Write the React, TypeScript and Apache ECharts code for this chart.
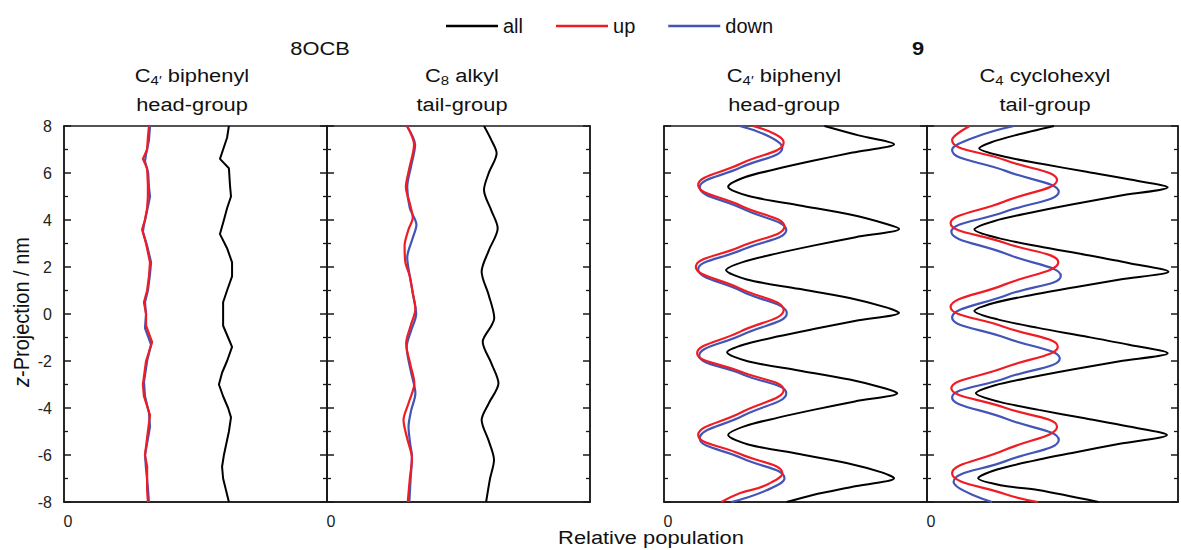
import React, { useEffect, useRef } from "react";
import * as echarts from "echarts";

const FONT = '"Liberation Sans", Arial, Helvetica, sans-serif';

// Each point: [relative population (0-100 of panel width), z-projection / nm]
const ocbHeadAll: [number, number][] = [[62.7,8],[62.0,7.5],[60.5,7],[59.3,6.6],[62.7,6.2],[63.1,5.5],[63.5,5],[62.0,4.5],[60.8,4],[59.3,3.4],[62.0,2.8],[63.9,2.2],[63.9,1.6],[62.0,1],[60.5,0.5],[60.5,0],[60.5,-0.5],[62.4,-1],[63.9,-1.4],[62.0,-2],[60.1,-2.5],[58.9,-3],[60.5,-3.5],[62.4,-4],[63.5,-4.4],[62.7,-5],[60.8,-6],[60.1,-6.5],[60.5,-7],[61.6,-7.5],[62.7,-8]];
const ocbHeadUp: [number, number][] = [[32.3,8],[31.9,7.5],[31.6,7],[30.0,6.6],[31.6,6.2],[31.9,5.5],[31.9,5],[31.6,4.5],[30.8,4],[29.7,3.6],[31.2,3],[32.7,2.2],[32.3,1.6],[31.6,1],[30.4,0.5],[31.2,0],[31.2,-0.5],[33.5,-1.2],[31.2,-2],[30.0,-3],[30.4,-3.5],[32.7,-4.3],[31.9,-5],[30.8,-6],[31.6,-6.5],[31.6,-7.5],[31.9,-8]];
const ocbHeadDown: [number, number][] = [[32.7,8],[32.3,7.4],[31.2,6.8],[30.8,6.5],[32.0,6.0],[32.3,5.4],[32.7,5.0],[31.6,4.4],[30.4,3.8],[30.0,3.5],[31.6,2.9],[33.1,2.2],[32.7,1.7],[31.9,1.0],[30.8,0.5],[31.2,0],[30.8,-0.6],[33.1,-1.3],[31.6,-2],[30.4,-2.9],[30.8,-3.5],[32.3,-4.2],[32.7,-4.8],[30.8,-6],[31.2,-6.6],[31.9,-7.4],[32.3,-8]];

const ocbTailAll: [number, number][] = [[59.7,8],[62.5,7.4],[64.5,6.84],[61.5,6.0],[59.7,5.28],[62.5,4.4],[64.9,3.65],[61.5,2.7],[58.8,1.8],[61.5,0.8],[63.6,-0.18],[62.5,-0.5],[59.2,-1.18],[62.5,-2.1],[65.2,-2.95],[61.5,-3.8],[58.8,-4.51],[61.5,-5.4],[63.5,-6.21],[62.0,-7.0],[60.5,-8]];
const ocbTailUp: [number, number][] = [[30.5,8],[33.1,7.2],[31.3,6.2],[30.0,5.4],[31.5,4.7],[32.6,4.1],[31.0,3.6],[29.5,2.9],[29.8,2.2],[31.5,1.6],[32.6,0.9],[33.6,0.2],[31.8,-0.5],[30.1,-1.25],[31.8,-2.2],[33.2,-2.95],[31.0,-3.8],[29.1,-4.51],[30.5,-5.3],[32.3,-6.14],[31.5,-7.0],[30.7,-8]];
const ocbTailDown: [number, number][] = [[30.3,8],[33.5,7.2],[32.0,6.3],[30.5,5.4],[31.5,4.5],[34.0,3.8],[32.5,3.2],[30.5,2.4],[31.5,1.6],[32.6,0.9],[33.9,0],[32.0,-0.7],[30.3,-1.4],[31.8,-2.4],[33.6,-3.38],[32.0,-4.1],[31.0,-4.8],[31.6,-5.5],[32.3,-6.07],[31.8,-7.0],[31.3,-8]];

const c9HeadAll: [number, number][] = [[61.0,8.0],[74.0,7.6],[87.5,7.22],[71.7,6.87],[56.6,6.52],[42.7,6.17],[30.7,5.82],[24.4,5.42],[32.2,5.02],[51.7,4.62],[71.2,4.22],[84.9,3.82],[89.4,3.62],[72.9,3.27],[57.2,2.92],[42.7,2.57],[30.2,2.22],[23.6,1.87],[31.5,1.47],[51.2,1.07],[71.0,0.67],[84.8,0.27],[89.4,0.05],[73.0,-0.29],[57.4,-0.63],[43.0,-0.96],[30.5,-1.3],[24.0,-1.63],[31.8,-2.01],[51.2,-2.4],[70.6,-2.79],[84.2,-3.17],[88.7,-3.37],[72.6,-3.72],[57.2,-4.07],[43.0,-4.42],[30.8,-4.77],[24.4,-5.15],[32.0,-5.55],[50.9,-5.95],[69.8,-6.35],[83.1,-6.75],[87.5,-6.99],[71.7,-7.35],[56.6,-7.7],[46.6,-8.0]];
const c9HeadUp: [number, number][] = [[33.8,8.0],[42.3,7.65],[45.5,7.31],[29.3,6.4],[13.0,5.49],[29.4,4.6],[45.8,3.72],[29.0,2.86],[12.1,2.01],[28.8,1.09],[45.5,0.17],[29.0,-0.75],[12.6,-1.67],[29.0,-2.45],[45.5,-3.23],[29.3,-4.19],[13.0,-5.15],[29.0,-5.96],[45.0,-6.78],[38.4,-7.3],[29.0,-7.62],[21.8,-8.0]];
const c9HeadDown: [number, number][] = [[28.8,8.0],[40.0,7.55],[45.0,7.09],[29.3,6.24],[13.6,5.39],[30.0,4.48],[46.5,3.57],[29.7,2.73],[13.0,1.9],[29.8,0.96],[46.7,0.03],[30.0,-0.87],[13.4,-1.77],[30.0,-2.57],[46.5,-3.37],[30.0,-4.33],[13.6,-5.29],[29.7,-6.14],[45.8,-6.99],[39.0,-7.5],[25.6,-8.0]];

const c9TailAll: [number, number][] = [[50.6,8.0],[35.0,7.6],[25.4,7.3],[20.8,7.05],[29.8,6.72],[45.6,6.39],[63.6,6.05],[80.9,5.72],[95.9,5.39],[76.7,5.03],[58.2,4.67],[41.2,4.31],[26.6,3.95],[18.9,3.6],[28.2,3.24],[44.4,2.88],[63.0,2.52],[80.7,2.16],[96.2,1.8],[76.9,1.47],[58.3,1.13],[41.3,0.8],[26.6,0.47],[18.9,0.13],[28.1,-0.23],[44.3,-0.59],[62.8,-0.95],[80.5,-1.31],[95.9,-1.67],[76.8,-2.01],[58.5,-2.35],[41.7,-2.69],[27.1,-3.03],[19.5,-3.37],[28.6,-3.73],[44.6,-4.08],[62.9,-4.44],[80.4,-4.79],[95.6,-5.15],[76.8,-5.52],[58.8,-5.89],[42.2,-6.25],[27.9,-6.62],[20.4,-6.99],[30.0,-7.3],[44.2,-7.49],[68.3,-8.0]];
const c9TailUp: [number, number][] = [[17.0,8.0],[10.0,7.4],[31.0,6.55],[51.8,5.7],[30.6,4.78],[9.4,3.86],[30.8,3.03],[52.3,2.2],[30.8,1.25],[9.4,0.3],[30.8,-0.55],[52.1,-1.39],[30.9,-2.28],[9.7,-3.16],[30.8,-3.98],[51.8,-4.8],[30.9,-5.79],[10.0,-6.78],[31.0,-7.66],[44.2,-8.0]];
const c9TailDown: [number, number][] = [[34.7,8.0],[18.5,7.5],[10.0,6.98],[31.3,6.09],[52.5,5.2],[31.1,4.35],[9.7,3.5],[31.5,2.56],[53.3,1.62],[31.6,0.8],[10.0,-0.15],[31.5,-1.02],[52.9,-1.89],[31.5,-2.72],[10.0,-3.55],[31.3,-4.45],[52.5,-5.36],[31.6,-6.25],[10.6,-7.14],[25.9,-8.0]];

const legendNames = ["all", "up", "down"];
const zMin = -8;
const zMax = 8;
const zStep = 2;

const panels = [
  { all: ocbHeadAll, up: ocbHeadUp, down: ocbHeadDown, smoothAll: 0, smoothUD: 0 },
  { all: ocbTailAll, up: ocbTailUp, down: ocbTailDown, smoothAll: 0.3, smoothUD: 0.3 },
  { all: c9HeadAll, up: c9HeadUp, down: c9HeadDown, smoothAll: 0.3, smoothUD: 0.45 },
  { all: c9TailAll, up: c9TailUp, down: c9TailDown, smoothAll: 0.3, smoothUD: 0.45 },
];

const gridLefts = [64, 327, 664, 927];
const GRID_W = 263;
const GRID_TOP = 126;
const GRID_H = 376;
const AX = "#1a1a1a";
const COL_ALL = "#000000";
const COL_UP = "#f01c24";
const COL_DOWN = "#4254b6";

function buildOption() {
  const grid = gridLefts.map((l) => ({
    left: l,
    top: GRID_TOP,
    width: GRID_W,
    height: GRID_H,
    show: true,
    borderColor: AX,
    borderWidth: 1.5,
    backgroundColor: "transparent",
  }));

  const xAxis = gridLefts.map((_, i) => ({
    type: "value",
    gridIndex: i,
    position: "bottom",
    min: 0,
    max: 100,
    interval: 100,
    axisLine: { show: true, onZero: false, lineStyle: { color: AX, width: 1.5 } },
    axisTick: { show: false },
    splitLine: { show: false },
    axisLabel: {
      formatter: (v: number) => (v === 0 ? "0" : ""),
      fontSize: 16,
      fontFamily: FONT,
      color: "#222",
      margin: 11,
      padding: [0, 0, 0, 8],
    },
  }));

  const yAxis: any[] = [];
  gridLefts.forEach((_, i) => {
    ["left", "right"].forEach((pos) => {
      yAxis.push({
        type: "value",
        gridIndex: i,
        position: pos,
        min: zMin,
        max: zMax,
        interval: zStep,
        axisLine: { show: true, onZero: false, lineStyle: { color: AX, width: 1.5 } },
        axisTick: { show: true, inside: true, length: 7, lineStyle: { color: AX, width: 1.5 } },
        minorTick: { show: true, splitNumber: 2, length: 4, lineStyle: { color: AX, width: 1.3 } },
        splitLine: { show: false },
        minorSplitLine: { show: false },
        axisLabel: {
          show: i === 0 && pos === "left",
          fontSize: 16,
          fontFamily: FONT,
          color: "#222",
          margin: 12,
        },
      });
    });
  });

  const series: any[] = [];
  panels.forEach((p, i) => {
    const base = {
      type: "line",
      xAxisIndex: i,
      yAxisIndex: 2 * i,
      symbol: "none",
      showSymbol: false,
      animation: false,
    };
    series.push({ ...base, name: "all", data: p.all, smooth: p.smoothAll, z: 2,
      itemStyle: { color: COL_ALL }, lineStyle: { color: COL_ALL, width: 2 } });
    series.push({ ...base, name: "down", data: p.down, smooth: p.smoothUD, z: 3,
      itemStyle: { color: COL_DOWN }, lineStyle: { color: COL_DOWN, width: 2.2 } });
    series.push({ ...base, name: "up", data: p.up, smooth: p.smoothUD, z: 4,
      itemStyle: { color: COL_UP }, lineStyle: { color: COL_UP, width: 2.2 } });
  });

  const rich = {
    n: { fontSize: 19, fontFamily: FONT, fill: "#111", color: "#111", verticalAlign: "top" },
    s: { fontSize: 13, fontFamily: FONT, fill: "#111", color: "#111", verticalAlign: "top", padding: [8, 0, 0, 0] },
  };
  const txt = (text: string, x: number, y: number, extra: any = {}) => ({
    type: "text",
    x,
    y,
    scaleX: 1.15,
    silent: true,
    style: {
      text,
      fontSize: 19,
      fontFamily: FONT,
      fill: "#111",
      align: "center",
      verticalAlign: "middle",
      rich,
      ...extra,
    },
  });

  const graphic = [
    txt("8OCB", 320, 48),
    txt("9", 918, 48, { fontWeight: "bold" }),
    txt("{n|C}{s|4′}{n| biphenyl}", 192, 76),
    txt("head-group", 192, 104),
    txt("{n|C}{s|8}{n| alkyl}", 462, 76),
    txt("tail-group", 462, 104),
    txt("{n|C}{s|4′}{n| biphenyl}", 784, 76),
    txt("head-group", 784, 104),
    txt("{n|C}{s|4}{n| cyclohexyl}", 1045, 76),
    txt("tail-group", 1045, 104),
    {
      type: "text",
      x: 651,
      y: 537,
      scaleX: 1.15,
      silent: true,
      style: { text: "Relative population", fontSize: 19, fontFamily: FONT, fill: "#111", align: "center", verticalAlign: "middle" },
    },
    {
      type: "text",
      x: 21,
      y: 312,
      rotation: Math.PI / 2,
      scaleY: 1.1,
      silent: true,
      style: {
        text: "{i|z}{m|-Projection / nm}",
        fontSize: 20,
        fontFamily: FONT,
        fill: "#111",
        align: "center",
        verticalAlign: "middle",
        rich: {
          i: { fontSize: 20, fontFamily: FONT, fontStyle: "italic", fill: "#111" },
          m: { fontSize: 20, fontFamily: FONT, fill: "#111" },
        },
      },
    },
  ];

  return {
    animation: false,
    backgroundColor: "#ffffff",
    legend: {
      data: legendNames.map((n) => ({ name: n, icon: "rect" })),
      left: 441,
      top: 11,
      itemWidth: 52,
      itemHeight: 2.5,
      itemGap: 33,
      selectedMode: false,
      textStyle: { fontSize: 20, fontFamily: FONT, color: "#111" },
    },
    grid,
    xAxis,
    yAxis,
    series,
    graphic,
  };
}

export default function App() {
  const ref = useRef<HTMLDivElement>(null);
  useEffect(() => {
    if (!ref.current) return;
    const chart = echarts.init(ref.current, undefined, { renderer: "svg" });
    chart.setOption(buildOption() as any);
    return () => chart.dispose();
  }, []);
  return (
    <div
      ref={ref}
      style={{ position: "absolute", left: 0, top: 0, width: 1181, height: 550, background: "#fff" }}
    />
  );
}
